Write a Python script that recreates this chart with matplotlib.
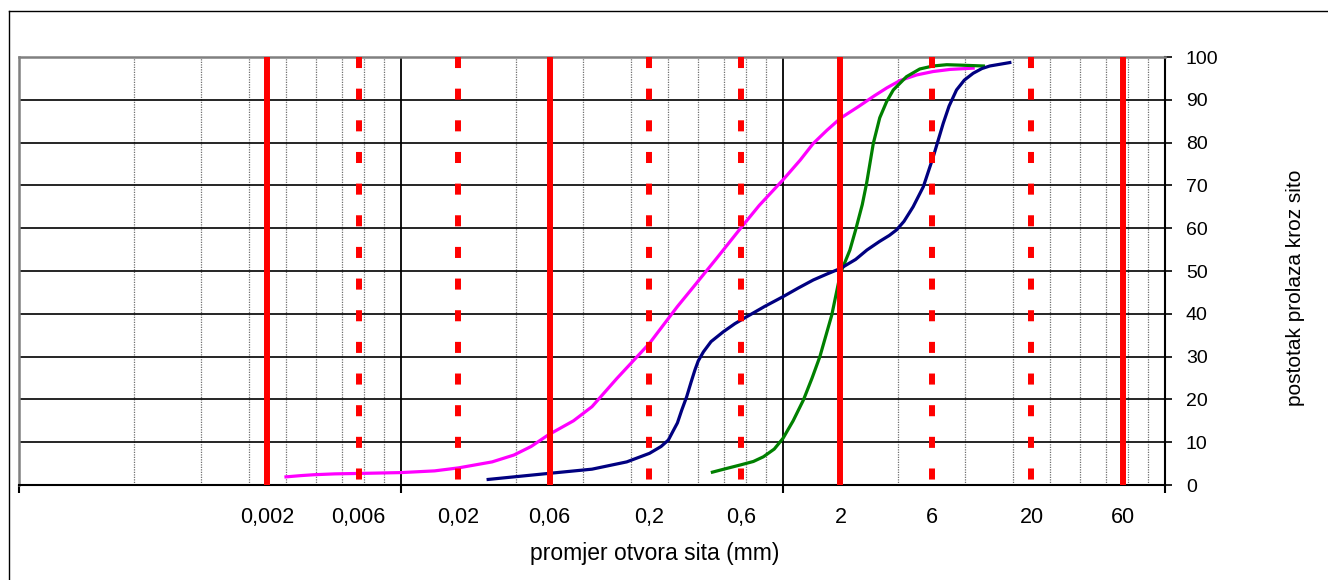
import matplotlib
matplotlib.use('Agg')
import matplotlib.pyplot as plt
from matplotlib.lines import Line2D

plt.rcParams['font.family'] = ['Liberation Sans', 'DejaVu Sans']

# grain size curves (sieve opening in mm, percent passing)
magenta_x = [0.0025, 0.003, 0.0035, 0.0045, 0.006, 0.01, 0.015, 0.02, 0.03, 0.039, 0.048,
             0.059, 0.08, 0.10, 0.135, 0.2, 0.28, 0.34, 0.45, 0.6, 0.75, 1.0, 1.23, 1.44,
             1.7, 2.0, 2.5, 3.0, 3.5, 4.1, 5.0, 6.1, 7.5, 9.9]
magenta_y = [1.9, 2.2, 2.4, 2.6, 2.7, 2.9, 3.3, 4.0, 5.4, 7.0, 9.0,
             11.7, 15.0, 18.3, 24.9, 33.1, 41.7, 46.3, 53.0, 60.0, 65.3, 71.3, 75.9, 79.8,
             82.9, 85.7, 88.5, 90.9, 92.8, 94.5, 95.8, 96.6, 97.1, 97.4]

green_x = [0.427, 0.5, 0.6, 0.7, 0.79, 0.9, 1.0, 1.13, 1.28, 1.42, 1.56, 1.8, 2.0, 2.24,
           2.4, 2.6, 2.74, 2.97, 3.21, 3.49, 3.78, 4.43, 5.2, 6.1, 7.2, 8.45, 11.2]
green_y = [3.0, 3.8, 4.7, 5.5, 6.6, 8.4, 10.9, 15.0, 19.9, 25.0, 30.0, 39.7, 49.5, 54.9,
           59.6, 65.5, 70.5, 79.8, 85.8, 89.6, 92.3, 95.4, 97.2, 97.9, 98.2, 98.1, 97.9]

navy_x = [0.0286, 0.059, 0.1, 0.152, 0.2, 0.23, 0.251, 0.265, 0.28, 0.295, 0.313, 0.33,
          0.346, 0.36, 0.383, 0.42, 0.487, 0.56, 0.645, 0.8, 1.0, 1.2, 1.44, 1.7, 2.0,
          2.4, 2.75, 3.2, 3.6, 3.93, 4.3, 4.8, 5.43, 6.12, 6.9, 7.4, 8.1, 8.9, 9.9, 11.0,
          12.1, 15.4]
navy_y = [1.3, 2.7, 3.7, 5.4, 7.4, 9.0, 10.5, 12.5, 14.5, 17.5, 20.6, 24.0,
          26.9, 29.0, 31.1, 33.5, 35.8, 37.7, 39.3, 41.7, 44.0, 46.0, 47.9, 49.3, 50.6,
          52.7, 54.9, 56.9, 58.3, 59.6, 61.6, 65.0, 69.7, 76.7, 84.5, 88.5, 92.3, 94.6, 96.2, 97.3,
          97.9, 98.7]

# fraction boundaries
solid_limits = [0.002, 0.06, 2, 60]
dashed_limits = [0.006, 0.02, 0.2, 0.6, 6, 20]
size_values = [0.002, 0.006, 0.02, 0.06, 0.2, 0.6, 2, 6, 20, 60]
size_labels = ['0,002', '0,006', '0,02', '0,06', '0,2', '0,6', '2', '6', '20', '60']

fig = plt.figure(figsize=(13.28, 5.80), dpi=100)
ax = fig.add_axes([19/1328, 95/580, 1146/1328, 428/580])

ax.set_xscale('log')
ax.set_xlim(1e-4, 100)
ax.set_ylim(0, 100)

# Excel-style base-100 log grid
major = [1e-4, 1e-2, 1, 100]
minor = [m * n * n for m in major[:-1] for n in range(2, 10)]
ax.set_xticks(major)
ax.set_xticklabels([])
ax.set_xticks(minor, minor=True)
ax.tick_params(axis='x', which='minor', length=0)
ax.tick_params(axis='x', which='major', direction='out', length=6, width=1.5)
ax.grid(True, which='minor', axis='x', color='#707070', linestyle=(0, (1, 1)), linewidth=0.9)
ax.grid(True, which='major', axis='x', color='black', linewidth=1.3)

ax.yaxis.tick_right()
ax.set_yticks(range(0, 101, 10))
ax.tick_params(axis='y', direction='out', length=5, width=1.2, labelsize=14, pad=10)
ax.grid(True, which='major', axis='y', color='black', linewidth=1.2)
ax.set_axisbelow(True)

for side in ['top', 'left']:
    ax.spines[side].set_color('#808080')
    ax.spines[side].set_linewidth(1.8)
for side in ['bottom', 'right']:
    ax.spines[side].set_color('black')
    ax.spines[side].set_linewidth(1.5)

# curves
ax.plot(magenta_x, magenta_y, color='#FF00FF', linewidth=2.3, zorder=3)
ax.plot(green_x, green_y, color='#008000', linewidth=2.3, zorder=3)
ax.plot(navy_x, navy_y, color='#000080', linewidth=2.3, zorder=3)

# fraction boundary lines
for v in solid_limits:
    ax.axvline(v, ymin=1, ymax=0, color='red', linewidth=4.3, solid_capstyle='butt', zorder=4)
for v in dashed_limits:
    ax.axvline(v, ymin=1, ymax=0, color='red', linewidth=4.3,
               linestyle=(0, (1.85, 3.45)), dash_capstyle='butt', zorder=4)

for v, lbl in zip(size_values, size_labels):
    ax.text(v, -0.076, lbl, transform=ax.get_xaxis_transform(),
            ha='center', va='center', fontsize=15.5)

ax.set_xlabel('promjer otvora sita (mm)', fontsize=16.5)
ax.xaxis.label.set_va('center')
ax.xaxis.set_label_coords(0.555, -0.159)
ax.yaxis.set_label_position('right')
ax.set_ylabel('postotak prolaza kroz sito', fontsize=15, rotation=90)
ax.yaxis.label.set_va('center')
ax.yaxis.set_label_coords(1.114, 0.461)

# outer chart border
fig.add_artist(Line2D([8.5/1328, 8.5/1328], [0, 1 - 11/580], color='black', linewidth=1,
                      transform=fig.transFigure))
fig.add_artist(Line2D([8.5/1328, 1], [1 - 11/580, 1 - 11/580], color='black', linewidth=1,
                      transform=fig.transFigure))

fig.savefig('out.png', dpi=100)
